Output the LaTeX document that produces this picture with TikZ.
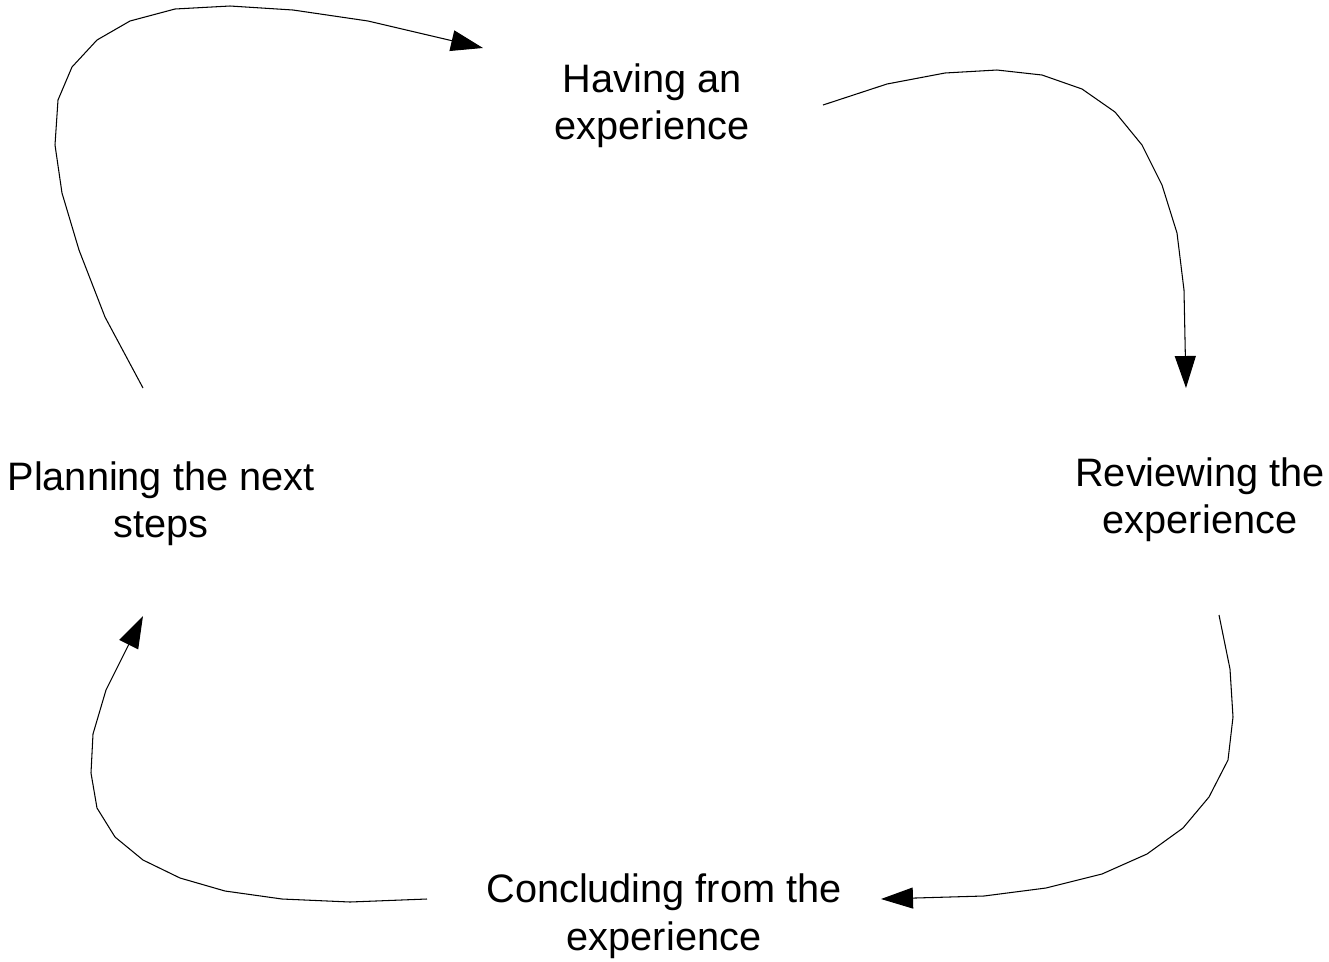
\documentclass[tikz,border=0pt]{standalone}
\usepackage{fontspec}
\setmainfont{Liberation Sans}
\usepackage{tikz}
\usetikzlibrary{arrows.meta}
\usetikzlibrary{positioning}

\begin{document}
\begin{tikzpicture}[x=0.02cm, y=-0.02cm, line width=0.6pt]
	\tikzstyle{phase}=[align=center, inner sep=0pt, font=\fontsize{22.6}{27}\selectfont]
	\tikzstyle{cycle}=[draw, -{Triangle[length=0.64cm, width=0.42cm]}]
	\useasboundingbox (0,0) rectangle (1329,961);
		\node[phase] (have) at (652,106) {Having an\\experience};
		\node[phase] (review) at (1200,500) {Reviewing the\\experience};
		\node[phase] (conclude) at (664,916) {Concluding from the\\experience};
		\node[phase] (plan) at (161,504) {Planning the next\\steps};

		\coordinate (have out) at (823,105);
		\coordinate (review in) at (1186,388);
		\coordinate (review out) at (1219,615);
		\coordinate (conclude in) at (881,899);
		\coordinate (conclude out) at (427,899);
		\coordinate (plan in) at (143,616);
		\coordinate (plan out) at (143,388);
		\coordinate (have in) at (483,48);

		\draw[cycle] (plan out) -- (105,317) -- (79,250) -- (62,193) -- (55,145)
			-- (58,100) -- (72,67) -- (97,40) -- (130,21) -- (175,9) -- (230,6)
			-- (293,10) -- (368,21) -- (have in);
		\draw[cycle] (have out) -- (887,84) -- (945,73) -- (997,70) -- (1042,75)
			-- (1082,89) -- (1115,112) -- (1142,145) -- (1162,185) -- (1177,233)
			-- (1184,290) -- (review in);
		\draw[cycle] (review out) -- (1230,669) -- (1233,717) -- (1228,760)
			-- (1209,797) -- (1183,828) -- (1147,854) -- (1102,874) -- (1046,888)
			-- (984,896) -- (conclude in);
		\draw[cycle] (conclude out) -- (350,902) -- (282,899) -- (225,891)
			-- (180,878) -- (143,860) -- (115,837) -- (97,808) -- (91,773)
			-- (93,734) -- (106,690) -- (plan in);
\end{tikzpicture}
\end{document}
